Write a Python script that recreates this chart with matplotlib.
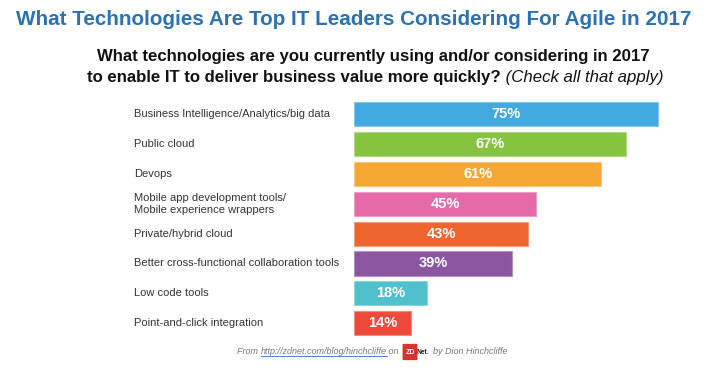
import matplotlib
matplotlib.use("Agg")
import matplotlib.pyplot as plt
from matplotlib.colors import to_rgb
from matplotlib.lines import Line2D
from matplotlib.patches import FancyBboxPatch
from matplotlib.transforms import blended_transform_factory

plt.rcParams['font.family'] = ['Liberation Sans', 'DejaVu Sans']

# data
categories = [
    "Business Intelligence/Analytics/big data",
    "Public cloud",
    "Devops",
    "Mobile app development tools/\nMobile experience wrappers",
    "Private/hybrid cloud",
    "Better cross-functional collaboration tools",
    "Low code tools",
    "Point-and-click integration",
]
values = [75, 67, 61, 45, 43, 39, 18, 14]
colors = ["#41a9e0", "#86c440", "#f4a833", "#e56aa7",
          "#ef6530", "#8b55a0", "#50c0cc", "#ee4a3b"]

title = "What Technologies Are Top IT Leaders Considering For Agile in 2017"
sub1 = "What technologies are you currently using and/or considering in 2017"
sub2 = "to enable IT to deliver business value more quickly?"
sub2_it = " (Check all that apply)"

W, H = 720, 371
fig = plt.figure(figsize=(7.2, 3.71), dpi=100)
fig.patch.set_facecolor("white")

# axes placed so that the bars start at x=354 px
ax = fig.add_axes([354 / W, 1 - 338 / H, 324.4 / W, 238.5 / H])
ypos = list(range(len(values)))


def lighter(c, f=0.35):
    r, g, b = to_rgb(c)
    return (r + (1 - r) * f, g + (1 - g) * f, b + (1 - b) * f)


ax.barh(ypos, values, height=0.81, color=colors,
        edgecolor=[lighter(c) for c in colors], linewidth=0.8)
ax.set_xlim(0, 80)
ax.set_ylim(len(values) - 0.5, -0.5)
ax.axis("off")

for y, v in zip(ypos, values):
    ax.text(v / 2, y, f"{v}%", ha="center", va="center", color="white",
            fontsize=10.5, fontweight="bold")

# category labels, left aligned at x=134 px
lab_tr = blended_transform_factory(fig.transFigure, ax.transData)
for y, lab in zip(ypos, categories):
    ax.text(134 / W, y, lab, transform=lab_tr, ha="left", va="center",
            fontsize=8, color="#333333", linespacing=1.25)

# titles
fig.text(353.5 / W, 1 - 25 / H, title, ha="center", va="baseline",
         fontsize=14.9, fontweight="bold", color="#2a72b5")
fig.text(373 / W, 1 - 61 / H, sub1, ha="center", va="baseline",
         fontsize=12.1, fontweight="bold", color="#111111")

fig.canvas.draw()
r = fig.canvas.get_renderer()
s2a = fig.text(0, 1 - 82 / H, sub2, ha="left", va="baseline",
               fontsize=12.1, fontweight="bold", color="#111111")
s2b = fig.text(0, 1 - 82 / H, sub2_it, ha="left", va="baseline",
               fontsize=12.1, style="italic", color="#111111")
wa = s2a.get_window_extent(r).width
wb = s2b.get_window_extent(r).width
x0 = 375 - (wa + wb) / 2
s2a.set_x(x0 / W)
s2b.set_x((x0 + wa) / W)

# footer
fy = 1 - 352 / H
t1 = fig.text(237 / W, fy, "From ", ha="left", va="center", fontsize=6.5,
              style="italic", color="#777777")
x = t1.get_window_extent(r).x1 / W
link = fig.text(x, fy, "http://zdnet.com/blog/hinchcliffe", ha="left", va="center",
                fontsize=6.5, style="italic", color="#777777")
bb = link.get_window_extent(r)
fig.add_artist(Line2D([bb.x0 / W, bb.x1 / W], [bb.y0 / H + 0.001, bb.y0 / H + 0.001],
                      transform=fig.transFigure, color="#5577dd", lw=0.7))
fig.text(bb.x1 / W, fy, " on", ha="left", va="center", fontsize=6.5,
         style="italic", color="#777777")
lx = 404 / W
fig.add_artist(FancyBboxPatch((lx, fy - 0.02), 12 / W, 0.04,
                              boxstyle="round,pad=0.002", transform=fig.transFigure,
                              facecolor="#d9342b", edgecolor="none"))
fig.text(lx + 6 / W, fy, "ZD", ha="center", va="center", fontsize=5,
         fontweight="bold", color="white")
fig.text(lx + 12.5 / W, fy, "Net.", ha="left", va="center", fontsize=4.8,
         fontweight="bold", color="#222222")
fig.text(433 / W, fy, "by Dion Hinchcliffe", ha="left", va="center", fontsize=6.5,
         style="italic", color="#777777")

fig.savefig("out.png", dpi=100)
